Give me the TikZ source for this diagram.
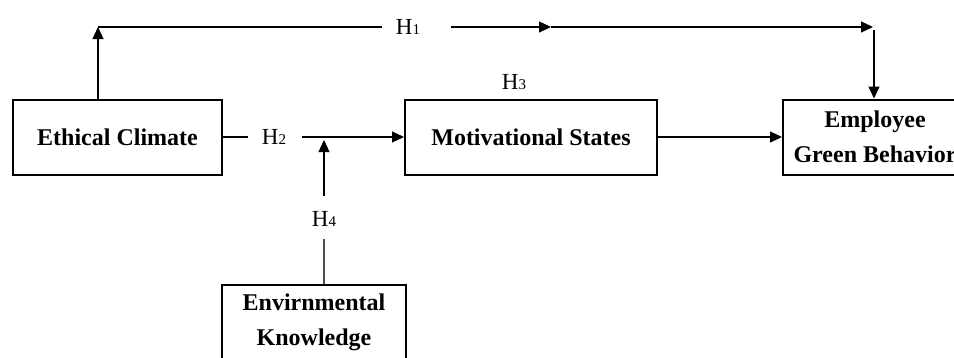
\documentclass[tikz,border=0pt]{standalone}
\usepackage{fontspec}
\setmainfont{Liberation Serif}
\usetikzlibrary{arrows.meta}
\newcommand{\hyp}[1]{H{\fontsize{15}{15}\selectfont #1}}
\tikzset{
  box/.style={draw, line width=2pt, font=\bfseries\fontsize{24}{35}\selectfont, align=center, inner sep=0pt},
  hlab/.style={font=\fontsize{23}{24}\selectfont, inner sep=0pt},
  conn/.style={line width=1.1pt},
  arr/.style={line width=1.1pt, -{Triangle[length=12pt,width=11pt]}},
}
\begin{document}
\begin{tikzpicture}[x=1pt,y=-1pt]
\useasboundingbox (0,0) rectangle (954,357);
\clip (0,0) rectangle (954,357);
\node[box, minimum width=209pt, minimum height=75pt] (ec) at (117.5,137) {Ethical Climate};
\node[box, minimum width=252pt, minimum height=75pt] (ms) at (531,137) {Motivational States};
\node[box, minimum width=184pt, minimum height=75pt] (egb) at (875,137) {Employee\\Green Behavior};
\node[box, minimum width=184pt, minimum height=75pt] (ek) at (314,322.5) {Envirnmental\\Knowledge};
% labels
\node[hlab] (h1) at (408,27) {\hyp{1}};
\node[hlab] (h2) at (274,137) {\hyp{2}};
\node[hlab] (h3) at (514,82) {\hyp{3}};
\node[hlab] (h4) at (324,219) {\hyp{4}};
% coordinates
\coordinate (ecup) at (98,100);
\coordinate (tl) at (98,27);
\coordinate (h1l) at (382,27);
\coordinate (h1r) at (451,27);
\coordinate (mid) at (551,27);
\coordinate (tr) at (873,27);
\coordinate (trd) at (874,30);
\coordinate (h2l) at (248,137);
\coordinate (h2r) at (302,137);
\coordinate (mod) at (324,140);
\coordinate (h4t) at (324,196);
\coordinate (h4b) at (324,239);
% H1 path
\draw[arr] (ec.north -| ecup) -- (tl);
\draw[conn] (tl) -- (h1l);
\draw[arr] (h1r) -- (mid);
\draw[arr] (mid) -- (tr);
\draw[arr] (trd) -- (egb.north -| trd);
% H2 path
\draw[conn] (ec.east) -- (h2l);
\draw[arr] (h2r) -- (ms.west);
% H3 path
\draw[arr] (ms.east) -- (egb.west);
% H4 path
\draw[conn, black!70] (ek.north -| h4b) -- (h4b);
\draw[arr] (h4t) -- (mod);
\end{tikzpicture}
\end{document}
